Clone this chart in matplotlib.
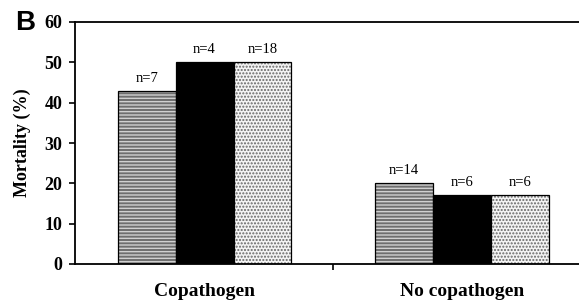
import matplotlib
matplotlib.use('Agg')
import matplotlib.pyplot as plt
import numpy as np

plt.rcParams.update({'font.family': 'Liberation Serif', 'font.size': 11})

groups = ['Copathogen', 'No copathogen']
striped = [43, 20]
solid = [50, 17]
dotted = [50, 17]
n_striped = ['n=7', 'n=14']
n_solid = ['n=4', 'n=6']
n_dotted = ['n=18', 'n=6']

x = np.arange(len(groups))
w = 0.225

fig = plt.figure(figsize=(5.79, 3.01), dpi=100)
ax = fig.add_axes([75/579, 37/301, 1 - 75/579, 242/301])

# striped bars: gray with thin horizontal lines
ax.bar(x - w, striped, w, color='#6e6e6e', edgecolor='#d0d0d0', hatch='-----', linewidth=0)
ax.bar(x - w, striped, w, fill=False, edgecolor='black', linewidth=0.9)
ax.bar(x, solid, w, color='black', edgecolor='black', linewidth=0.9)
# dotted bars
ax.bar(x + w, dotted, w, color='#f4f4f4', edgecolor='#666666', hatch='.....', linewidth=0)
ax.bar(x + w, dotted, w, fill=False, edgecolor='black', linewidth=0.9)

for xs, vals, labs in [(x - w, striped, n_striped), (x, solid, n_solid), (x + w, dotted, n_dotted)]:
    for xi, v, lab in zip(xs, vals, labs):
        ax.text(xi, v + 1.5, lab, ha='center', va='bottom', fontsize=10.5)

ax.set_xlim(-0.503, 1.454)
ax.set_ylim(0, 60)
ax.set_yticks(range(0, 61, 10))
ax.set_xticks([0.5])
ax.set_xticklabels([''])
for g, xi in zip(groups, x):
    ax.text(xi, -0.115, g, transform=ax.get_xaxis_transform(), ha='center', va='center',
            fontsize=14, fontweight='bold')

ax.spines['right'].set_visible(False)
for s in ['left', 'bottom', 'top']:
    ax.spines[s].set_linewidth(1.3)
ax.tick_params(axis='y', direction='out', length=4, width=1.2, labelsize=13, pad=5)
ax.tick_params(axis='x', direction='out', length=4, width=1.2)
for t in ax.get_yticklabels():
    t.set_fontweight('bold')

ax.set_ylabel('Mortality (%)', fontsize=13, fontweight='bold', labelpad=10)
fig.text(15/579, 1 - 23/301, 'B', fontsize=20, fontweight='bold', family='Liberation Sans',
         va='center', ha='left')

plt.savefig('out.png', dpi=100)
